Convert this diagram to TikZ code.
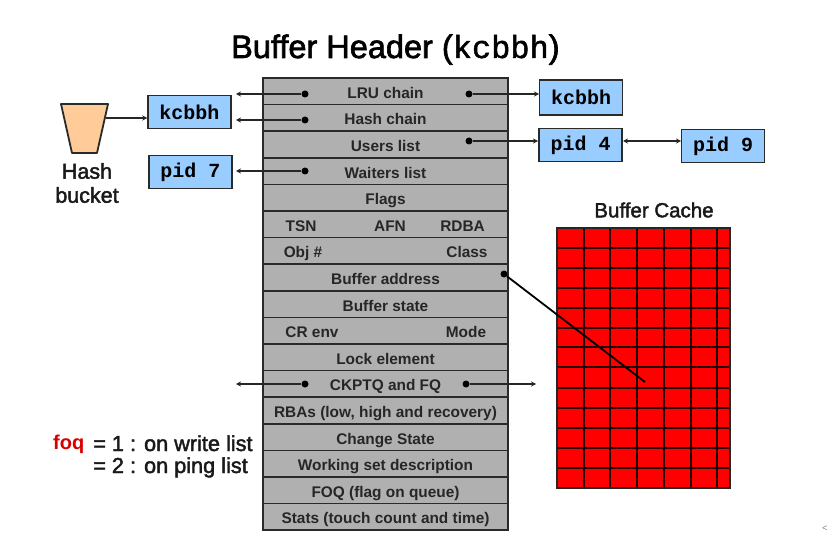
\documentclass[tikz,border=0pt]{standalone}
\usepackage{fontspec}
\setmainfont{Liberation Sans}
\setmonofont{Liberation Mono}
\newfontfamily\heavysans[FakeBold=2]{Liberation Sans}
\newfontfamily\heavymono[FakeBold=1.5]{Liberation Mono}
\usetikzlibrary{arrows.meta}
\definecolor{rowgray}{HTML}{B0B0B0}
\definecolor{boxblue}{HTML}{99CCFF}
\definecolor{linedark}{HTML}{2A2A2A}
\definecolor{bucketfill}{HTML}{FFCC99}
\tikzset{
  hdrrow/.style={draw=linedark,line width=1.5pt,fill=rowgray,minimum width=245pt,minimum height=26.6pt,inner sep=0pt},
  hdrtext/.style={font=\fontsize{15.4}{17}\selectfont\bfseries,text=black!85,inner sep=0pt,text height=14pt,text depth=0pt},
  listbox/.style={draw=linedark,line width=1.5pt,fill=boxblue,minimum width=83pt,minimum height=33pt,inner sep=0pt,font=\fontsize{20}{22}\selectfont\ttfamily\bfseries},
  ptrdot/.style={circle,fill=black,minimum size=7pt,inner sep=0pt},
  ptr/.style={line width=1.3pt,draw=black!85,-{Stealth[length=5pt,width=5pt]}},
  cacheline/.style={line width=1.3pt,draw=black!85!red},
  plaintext/.style={font=\fontsize{21.5}{24}\selectfont\heavysans,inner sep=0pt,text=black!90}
}
\begin{document}
\begin{tikzpicture}[x=1pt,y=-1pt]
  \useasboundingbox (0,0) rectangle (827,556);

  % title
  \node[inner sep=0pt,font=\fontsize{32.5}{36}\selectfont\heavysans,anchor=base west] (title) at (231,58) {Buffer Header ({\heavymono\fontsize{32}{36}\selectfont kcbbh})};

  % header rows
  \node[hdrrow,hdrtext] (lru) at (385.5,91.3) {LRU chain};
  \node[hdrrow,hdrtext] (hash) at (385.5,117.9) {Hash chain};
  \node[hdrrow,hdrtext] (users) at (385.5,144.5) {Users list};
  \node[hdrrow,hdrtext] (waiters) at (385.5,171.1) {Waiters list};
  \node[hdrrow,hdrtext] (flags) at (385.5,197.7) {Flags};
  \node[hdrrow] (tsn) at (385.5,224.3) {};
  \node[hdrrow] (obj) at (385.5,250.9) {};
  \node[hdrrow,hdrtext] (bufaddr) at (385.5,277.5) {Buffer address};
  \node[hdrrow,hdrtext] (bufstate) at (385.5,304.1) {Buffer state};
  \node[hdrrow] (crenv) at (385.5,330.7) {};
  \node[hdrrow,hdrtext] (lock) at (385.5,357.3) {Lock element};
  \node[hdrrow,hdrtext] (ckptq) at (385.5,383.9) {CKPTQ and FQ};
  \node[hdrrow,hdrtext] (rbas) at (385.5,410.5) {RBAs (low, high and recovery)};
  \node[hdrrow,hdrtext] (change) at (385.5,437.1) {Change State};
  \node[hdrrow,hdrtext] (workset) at (385.5,463.7) {Working set description};
  \node[hdrrow,hdrtext] (foqrow) at (385.5,490.3) {FOQ (flag on queue)};
  \node[hdrrow,hdrtext] (stats) at (385.5,516.9) {Stats (touch count and time)};

  % rows with several fields
  \node[hdrtext] (tsnlbl) at (301,224.3) {TSN};
  \node[hdrtext] (afnlbl) at (390,224.3) {AFN};
  \node[hdrtext] (rdbalbl) at (462.5,224.3) {RDBA};
  \node[hdrtext] (objlbl) at (303,250.9) {Obj \#};
  \node[hdrtext] (classlbl) at (467,250.9) {Class};
  \node[hdrtext] (crlbl) at (312,330.7) {CR env};
  \node[hdrtext] (modelbl) at (466,330.7) {Mode};

  % list boxes
  \node[listbox] (kcbbhl) at (189.5,112) {kcbbh};
  \node[listbox] (pidseven) at (190.5,172) {pid 7};
  \node[listbox,minimum height=35pt] (kcbbhr) at (581,97.5) {kcbbh};
  \node[listbox] (pidfour) at (580.5,145) {pid 4};
  \node[listbox] (pidnine) at (723,146) {pid 9};

  % hash bucket
  \draw[line width=1.8pt,draw=linedark,fill=bucketfill,line join=round] (61,104) -- (108,104) -- (97,153) -- (72,153) -- cycle;
  \coordinate (bucket) at (106,118);
  \node[plaintext] (hashlbl) at (87,171) {Hash};
  \node[plaintext] (bucketlbl) at (87,195) {bucket};

  % pointers
  \node[ptrdot] (lrul) at (305,94) {};
  \node[ptrdot] (lrur) at (469,94) {};
  \node[ptrdot] (hashl) at (305,120) {};
  \node[ptrdot] (usersr) at (469,141) {};
  \node[ptrdot] (waitersl) at (305,171) {};
  \node[ptrdot] (bufr) at (504,274) {};
  \node[ptrdot] (ckptql) at (305,384) {};
  \node[ptrdot] (ckptqr) at (466,384) {};
  \coordinate (lruend) at (236,94);
  \coordinate (hashend) at (236,120);
  \coordinate (waitersend) at (236,171);
  \coordinate (ckptqlend) at (236,384);
  \coordinate (ckptqrend) at (536,384);
  \coordinate (kcbbhrin) at (539,94);
  \coordinate (pidfourin) at (538,141);
  \coordinate (pidfourout) at (623,141);
  \coordinate (pidninein) at (681,141);
  \coordinate (cacheblock) at (645,382);

  \draw[ptr] (bucket) -- (kcbbhl.west |- bucket);
  \draw[ptr] (lrul) -- (lruend);
  \draw[ptr] (hashl) -- (hashend);
  \draw[ptr] (waitersl) -- (waitersend);
  \draw[ptr] (lrur) -- (kcbbhrin);
  \draw[ptr] (usersr) -- (pidfourin);
  \draw[ptr,{Stealth[length=5pt,width=5pt]}-{Stealth[length=5pt,width=5pt]}] (pidfourout) -- (pidninein);
  \draw[ptr] (ckptql) -- (ckptqlend);
  \draw[ptr] (ckptqr) -- (ckptqrend);

  % buffer cache
  \node[inner sep=0pt,font=\fontsize{20.5}{24}\selectfont\heavysans,text=black!90] (cachelbl) at (654,210) {Buffer Cache};
  \draw[fill=red,draw=none] (557,228) rectangle (730,488);
  \draw[cacheline] (584,228) -- (584,488);
  \draw[cacheline] (610,228) -- (610,488);
  \draw[cacheline] (637,228) -- (637,488);
  \draw[cacheline] (664,228) -- (664,488);
  \draw[cacheline] (691,228) -- (691,488);
  \draw[cacheline] (717,228) -- (717,488);
  \draw[cacheline] (557,248) -- (730,248);
  \draw[cacheline] (557,268) -- (730,268);
  \draw[cacheline] (557,288) -- (730,288);
  \draw[cacheline] (557,308) -- (730,308);
  \draw[cacheline] (557,328) -- (730,328);
  \draw[cacheline] (557,347) -- (730,347);
  \draw[cacheline] (557,367) -- (730,367);
  \draw[cacheline] (557,388) -- (730,388);
  \draw[cacheline] (557,408) -- (730,408);
  \draw[cacheline] (557,428) -- (730,428);
  \draw[cacheline] (557,448) -- (730,448);
  \draw[cacheline] (557,468) -- (730,468);
  \draw[line width=1.6pt,draw=black!85] (557,228) rectangle (730,488);
  \draw[line width=1.8pt,draw=black] (bufr) -- (cacheblock);

  % foq legend
  \node[font=\fontsize{20}{22}\selectfont\bfseries,text=red!85!black,inner sep=0pt,anchor=base west] (foqlbl) at (53,449) {foq};
  \node[plaintext,font=\fontsize{21.7}{24}\selectfont\heavysans,anchor=base west] (writelbl) at (93,451) {= 1 : on write list};
  \node[plaintext,font=\fontsize{21.7}{24}\selectfont\heavysans,anchor=base west] (pinglbl) at (93,473) {= 2 : on ping list};

  \node[inner sep=0pt,text=black!45,font=\fontsize{10}{12}\selectfont] (corner) at (825,529) {<};
\end{tikzpicture}
\end{document}
